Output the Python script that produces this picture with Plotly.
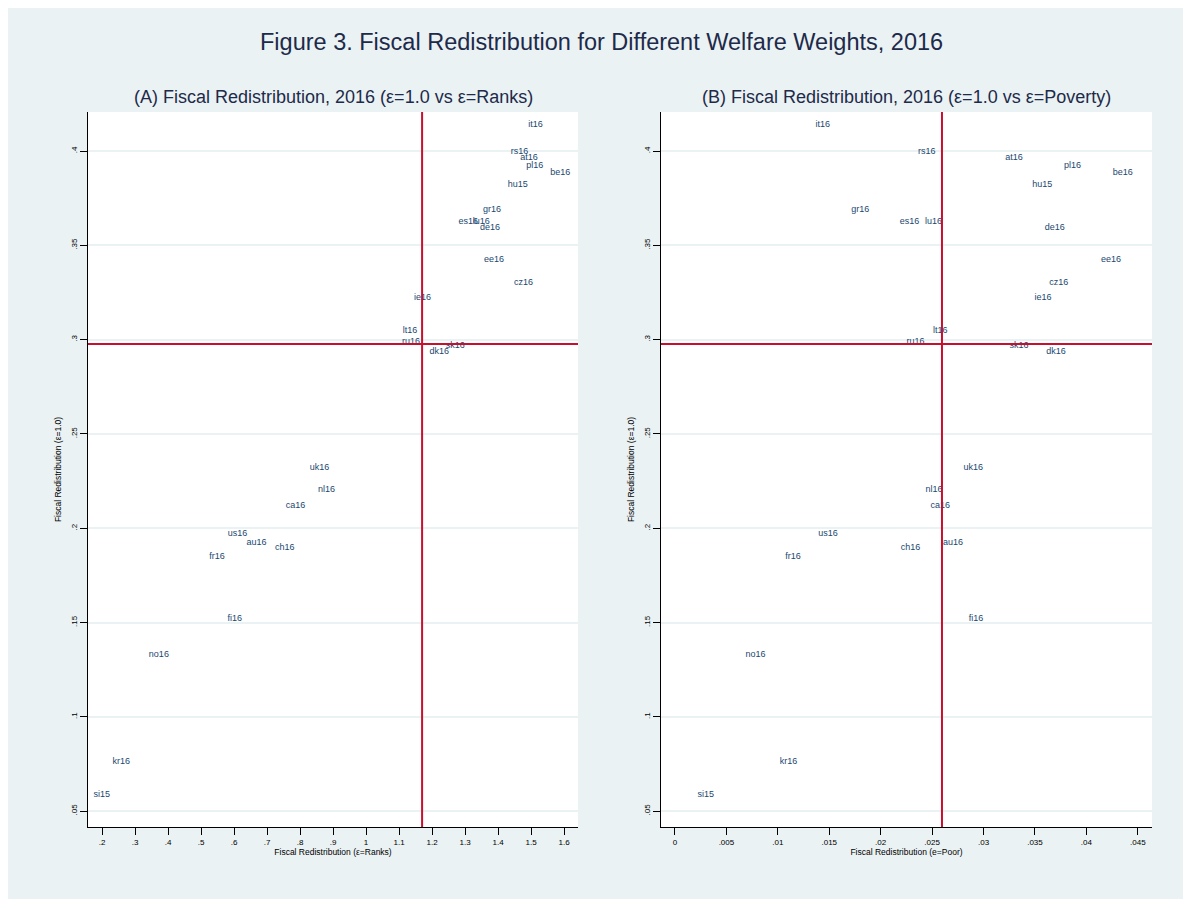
import plotly.graph_objects as go

# country codes and values
countries = ["it16", "rs16", "at16", "pl16", "be16", "hu15", "gr16", "es16", "lu16", "de16",
             "ee16", "cz16", "ie16", "lt16", "ru16", "sk16", "dk16", "uk16", "nl16", "ca16",
             "us16", "au16", "ch16", "fr16", "fi16", "no16", "kr16", "si15"]
redis_eps1 = [0.4139, 0.3995, 0.3964, 0.3922, 0.3885, 0.3821, 0.3689, 0.3624, 0.3624, 0.3593,
              0.3422, 0.3302, 0.3222, 0.3046, 0.2989, 0.2968, 0.2938, 0.2321, 0.2203, 0.2119,
              0.1969, 0.1922, 0.1897, 0.1849, 0.1519, 0.1329, 0.0760, 0.0587]
redis_ranks = [1.491, 1.438, 1.467, 1.485, 1.558, 1.429, 1.354, 1.280, 1.323, 1.345,
               1.357, 1.448, 1.145, 1.111, 1.109, 1.241, 1.192, 0.829, 0.854, 0.757,
               0.581, 0.638, 0.724, 0.525, 0.580, 0.342, 0.232, 0.174]
redis_poor = [0.01367, 0.02363, 0.03210, 0.03782, 0.04256, 0.03473, 0.01714, 0.02185, 0.02431, 0.03594,
              0.04142, 0.03639, 0.03496, 0.02509, 0.02250, 0.03253, 0.03609, 0.02805, 0.02435, 0.02484,
              0.01393, 0.02606, 0.02195, 0.01072, 0.02857, 0.00685, 0.01019, 0.00218]

mean_eps1 = 0.2977
mean_ranks = 1.1697
mean_poor = 0.02596

y_ticks = [0.05, 0.1, 0.15, 0.2, 0.25, 0.3, 0.35, 0.4]
y_ticklabels = [".05", ".1", ".15", ".2", ".25", ".3", ".35", ".4"]
rank_ticks = [0.2, 0.3, 0.4, 0.5, 0.6, 0.7, 0.8, 0.9, 1.0, 1.1, 1.2, 1.3, 1.4, 1.5, 1.6]
rank_ticklabels = [".2", ".3", ".4", ".5", ".6", ".7", ".8", ".9", "1", "1.1", "1.2", "1.3", "1.4", "1.5", "1.6"]
poor_ticks = [0, 0.005, 0.01, 0.015, 0.02, 0.025, 0.03, 0.035, 0.04, 0.045]
poor_ticklabels = ["0", ".005", ".01", ".015", ".02", ".025", ".03", ".035", ".04", ".045"]

BG = "#EAF2F3"
NAVY = "#1A476F"
RED = "#C8102E"
TITLE = "#1E2A4A"
FONT = "Liberation Sans, Arial, sans-serif"

# page body keeps an 8px margin, so the figure sits inside it
W, H = 1175, 891

fig = go.Figure()

fig.add_trace(go.Scatter(
    x=redis_ranks, y=redis_eps1, text=countries, mode="text",
    textposition="middle right", textfont=dict(size=9, color=NAVY, family=FONT),
    xaxis="x", yaxis="y", hoverinfo="skip", showlegend=False,
))
fig.add_trace(go.Scatter(
    x=redis_poor, y=redis_eps1, text=countries, mode="text",
    textposition="middle right", textfont=dict(size=9, color=NAVY, family=FONT),
    xaxis="x2", yaxis="y2", hoverinfo="skip", showlegend=False,
))

xdom1 = [80 / W, 570 / W]
xdom2 = [653 / W, 1144 / W]
ydom = [1 - 819 / H, 1 - 104 / H]

axis_common = dict(
    showline=True, linecolor="black", linewidth=1, mirror=False,
    ticks="outside", ticklen=7, tickcolor="black", tickwidth=1,
    tickfont=dict(size=8, color="black", family=FONT),
    zeroline=False,
)
title_font = dict(size=8.5, color="black", family=FONT)

yaxis_style = dict(
    axis_common, domain=ydom, range=[0.0416, 0.4207],
    tickvals=y_ticks, ticktext=y_ticklabels, tickangle=-90,
    showgrid=True, gridcolor=BG, gridwidth=2,
    title=dict(text="Fiscal Redistribution (ε=1.0)", font=title_font, standoff=6),
)

fig.update_layout(
    width=W, height=H,
    margin=dict(l=0, r=0, t=0, b=0),
    paper_bgcolor=BG,
    plot_bgcolor="white",
    font=dict(family=FONT),
    xaxis=dict(axis_common, domain=xdom1, range=[0.1576, 1.642], anchor="y",
               tickvals=rank_ticks, ticktext=rank_ticklabels, showgrid=False,
               title=dict(text="Fiscal Redistribution (ε=Ranks)", font=title_font, standoff=2)),
    yaxis=dict(yaxis_style, anchor="x"),
    xaxis2=dict(axis_common, domain=xdom2, range=[-0.00136, 0.04638], anchor="y2",
                tickvals=poor_ticks, ticktext=poor_ticklabels, showgrid=False,
                title=dict(text="Fiscal Redistribution (e=Poor)", font=title_font, standoff=2)),
    yaxis2=dict(yaxis_style, anchor="x2"),
    hovermode=False,
)

# mean reference lines
for xr, yr, xm in [("x", "y", mean_ranks), ("x2", "y2", mean_poor)]:
    fig.add_shape(type="line", xref=xr, yref=yr + " domain", x0=xm, x1=xm, y0=0, y1=1,
                  line=dict(color=RED, width=2))
    fig.add_shape(type="line", xref=xr + " domain", yref=yr, x0=0, x1=1, y0=mean_eps1, y1=mean_eps1,
                  line=dict(color=RED, width=2))

fig.add_annotation(text="Figure 3. Fiscal Redistribution for Different Welfare Weights, 2016",
                   xref="paper", yref="paper", x=593 / W, y=1 - 34 / H, showarrow=False,
                   font=dict(size=23.5, color=TITLE, family=FONT), xanchor="center", yanchor="middle")
fig.add_annotation(text="(A) Fiscal Redistribution, 2016 (ε=1.0 vs ε=Ranks)",
                   xref="paper", yref="paper", x=325 / W, y=1 - 89 / H, showarrow=False,
                   font=dict(size=18, color=TITLE, family=FONT), xanchor="center", yanchor="middle")
fig.add_annotation(text="(B) Fiscal Redistribution, 2016 (ε=1.0 vs ε=Poverty)",
                   xref="paper", yref="paper", x=898 / W, y=1 - 89 / H, showarrow=False,
                   font=dict(size=18, color=TITLE, family=FONT), xanchor="center", yanchor="middle")

fig.write_html("out.html")
